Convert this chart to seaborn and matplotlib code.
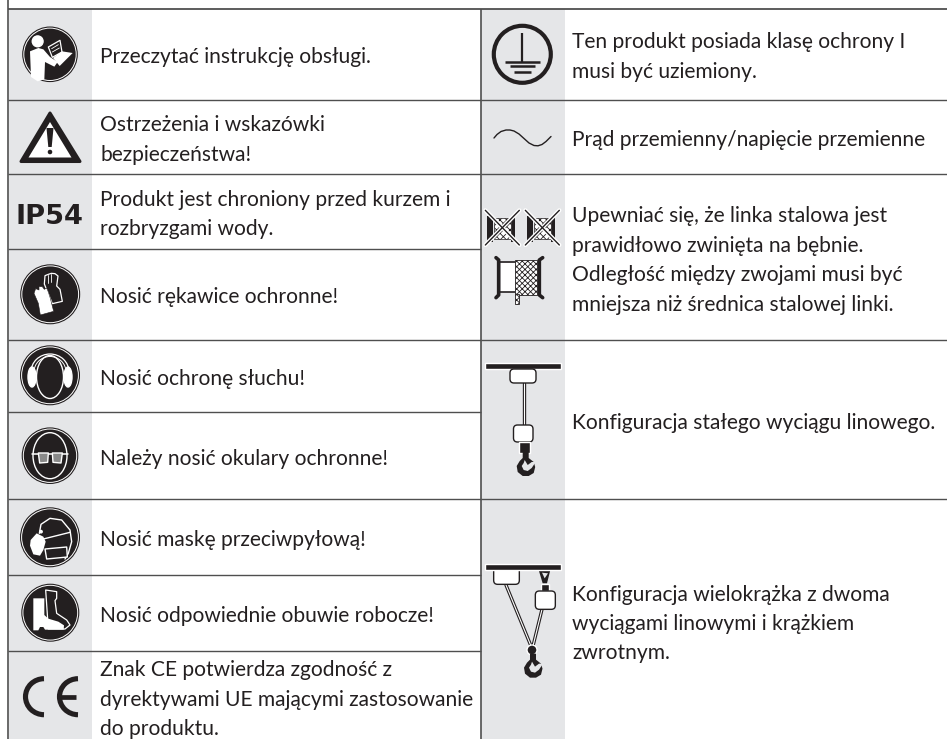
import numpy as np
import pandas as pd
import matplotlib
matplotlib.use("Agg")
import matplotlib.pyplot as plt
import seaborn as sns
from matplotlib.patches import Circle, Polygon, Rectangle, FancyBboxPatch, Ellipse, Arc

# table rows, y of the rules in pixels
left_rules = [99.5, 174, 248.5, 340, 412, 499, 575, 651]
right_rules = [99.5, 174, 340, 499]
top_rule = 9

left_text = ["Przeczytać instrukcję obsługi.",
             "Ostrzeżenia i wskazówki", "bezpieczeństwa!",
             "Produkt jest chroniony przed kurzem i", "rozbryzgami wody.",
             "Nosić rękawice ochronne!",
             "Nosić ochronę słuchu!",
             "Należy nosić okulary ochronne!",
             "Nosić maskę przeciwpyłową!",
             "Nosić odpowiednie obuwie robocze!",
             "Znak CE potwierdza zgodność z",
             "dyrektywami UE mającymi zastosowanie",
             "do produktu."]
left_base = [62.7, 131, 160.7, 205.7, 235, 303, 384.7, 465, 545.7, 622, 676, 706, 735]

right_text = ["Ten produkt posiada klasę ochrony I",
              "musi być uziemiony.",
              "Prąd przemienny/napięcie przemienne",
              "Upewniać się, że linka stalowa jest",
              "prawidłowo zwinięta na bębnie.",
              "Odległość między zwojami musi być",
              "mniejsza niż średnica stalowej linki.",
              "Konfiguracja stałego wyciągu linowego.",
              "Konfiguracja wielokrążka z dwoma",
              "wyciągami linowymi i krążkiem",
              "zwrotnym."]
right_base = [48.3, 78.3, 145.7, 222, 251.7, 281, 310.7, 429.3, 601, 630, 659]

# alternating current symbol
wave_x = [494, 497, 501, 506, 510, 514, 519, 524, 529, 534, 538, 542, 546, 551]
wave_y = [138, 134.5, 131.5, 130, 130, 131, 134, 138.5, 143, 145.5, 145.8, 144.5, 141.5, 136.5]

INK = "#231f20"
GREY = "#e5e6e8"
RULE = "#4f4f4f"

sns.set_theme(style="white")
plt.rcParams["font.family"] = ["Lato", "DejaVu Sans"]
plt.rcParams["hatch.linewidth"] = 0.6

fig = plt.figure(figsize=(9.47, 7.39), dpi=100)
ax = fig.add_axes([0, 0, 1, 1])
ax.set_xlim(0, 947)
ax.set_ylim(739, 0)
ax.axis("off")


def crop(pts, ox, oy):
    return [(ox + x / 3, oy + y / 3) for x, y in pts]


def poly(pts, fc="white", ec="none", lw=0, closed=True, z=5):
    ax.add_patch(Polygon(pts, closed=closed, facecolor=fc, edgecolor=ec, linewidth=lw, zorder=z, joinstyle="round"))


def stroke(pts, color="white", lw=0.9, z=5):
    xs, ys = zip(*pts)
    ax.plot(xs, ys, color=color, lw=lw, zorder=z, solid_capstyle="round", solid_joinstyle="round")


def badge(cx, cy, r):
    ax.add_patch(Circle((cx, cy), r, facecolor=INK, edgecolor="none", zorder=3))
    ax.add_patch(Circle((cx, cy), r - 1.6, facecolor="none", edgecolor="white", linewidth=0.7, zorder=4))


def block(x0, y0, x1, y1):
    ax.add_patch(FancyBboxPatch((x0, y0), x1 - x0, y1 - y0, boxstyle="round,pad=0,rounding_size=4",
                                facecolor="white", edgecolor=INK, linewidth=1.0, zorder=6))


def rope(x0, y0, x1, y1):
    stroke([(x0, y0), (x1, y1)], INK, 2.4, 4)
    stroke([(x0, y0), (x1, y1)], "white", 0.8, 4.5)


def hook(cx, cy):
    body = [(-3, -13), (3, -13), (3, -7), (8, -3), (9.5, 2), (8, 8), (3, 11), (-3, 11), (-8, 7), (-9, 1), (-6, -4), (-3, -7)]
    poly([(cx + x, cy + y) for x, y in body], INK, z=6)
    flame = [(-1, -5), (2, 0), (6, -3), (10, -3), (6, 3), (2, 6), (-2, 5), (-4, 1), (-2, -2)]
    poly([(cx + x, cy + y) for x, y in flame], GREY, z=7)


# grey icon columns and rules
ax.add_patch(Rectangle((8.5, top_rule), 83.5, 739 - top_rule, facecolor=GREY, edgecolor="none", zorder=1))
ax.add_patch(Rectangle((481, top_rule), 84, 739 - top_rule, facecolor=GREY, edgecolor="none", zorder=1))
ax.hlines(top_rule, 8, 947, color=RULE, lw=1.3, zorder=2)
ax.hlines(left_rules, 8, 480.5, color=RULE, lw=1.0, zorder=2)
ax.hlines(right_rules, 480.5, 947, color=RULE, lw=1.0, zorder=2)
ax.vlines(8, 0, 739, color=RULE, lw=1.2, zorder=2)
ax.vlines(480.5, top_rule, 739, color=RULE, lw=1.2, zorder=2)

for s, y in zip(left_text, left_base):
    ax.text(100, y, s, fontsize=15.1, color=INK, va="baseline", ha="left")
for s, y in zip(right_text, right_base):
    ax.text(572, y, s, fontsize=15.1, color=INK, va="baseline", ha="left")

# read the manual
badge(50, 54.3, 27.8)
ox, oy = 15, 22
ax.add_patch(Circle((ox + 68 / 3, oy + 58 / 3), 5.4, facecolor="white", zorder=5))
poly(crop([(45, 88), (70, 78), (85, 82), (105, 105), (128, 120), (118, 134), (98, 124), (90, 120), (88, 172), (68, 178), (48, 165)], ox, oy))
poly(crop([(100, 75), (135, 55), (141, 90), (112, 106)], ox, oy), INK, "white", 0.9, z=6)
poly(crop([(141, 88), (173, 93), (134, 132), (114, 108)], ox, oy), "white", z=6)
stroke(crop([(110, 80), (130, 68)], ox, oy), "white", 0.6, 7)
stroke(crop([(112, 90), (133, 78)], ox, oy), "white", 0.6, 7)

# warning triangle
poly([(50, 113), (21, 161.5), (80, 161.5)], INK, INK, 2.2)
poly([(50, 122), (28.5, 157.5), (71.5, 157.5)], "white", z=6)
poly([(46.5, 128), (53.5, 128), (51.7, 147), (48.3, 147)], INK, z=7)
ax.add_patch(Circle((50, 152), 3, facecolor=INK, zorder=7))

# IP54
ax.text(50, 224, "IP54", fontsize=19.6, fontweight="bold", color=INK, family="DejaVu Sans", ha="center", va="baseline", zorder=5)

# gloves
badge(50.2, 294.3, 30)
ox, oy = 15, 260
poly(crop([(88, 72), (90, 47), (100, 43), (109, 40), (120, 41), (129, 48), (125, 78), (135, 88), (142, 124), (112, 131)], ox, oy), INK, "white", 0.9)
stroke(crop([(99, 44), (99, 68)], ox, oy), "white", 0.6)
stroke(crop([(109, 41), (109, 66)], ox, oy), "white", 0.6)
poly(crop([(57, 100), (62, 86), (72, 90), (72, 80), (82, 80), (88, 88), (95, 84), (100, 96), (106, 115), (116, 154), (76, 165), (70, 130)], ox, oy), "white", INK, 0.4, z=6)

# hearing protection
badge(50, 375.3, 30)
ax.add_patch(Ellipse((50, 377), 27, 43, facecolor=INK, edgecolor="white", linewidth=1.0, zorder=5))
ax.add_patch(Arc((50, 372), 38, 36, theta1=180, theta2=360, edgecolor="white", linewidth=0.9, zorder=5))
ax.add_patch(Arc((50, 372), 32, 31, theta1=180, theta2=360, edgecolor="white", linewidth=0.7, zorder=5))
ax.add_patch(Ellipse((32, 377), 8, 20, facecolor="white", zorder=5))
ax.add_patch(Ellipse((68, 377), 8, 20, facecolor="white", zorder=5))

# safety glasses
badge(50, 455.7, 28.3)
ax.add_patch(Ellipse((50, 455.7), 34, 46, facecolor=INK, edgecolor="white", linewidth=1.0, zorder=5))
ox, oy = 15, 425
stroke(crop([(50, 86), (160, 86)], ox, oy), "white", 1.1, 6)
poly(crop([(70, 84), (100, 84), (98, 112), (74, 114)], ox, oy), "#8a8a8a", "white", 1.0, z=6)
poly(crop([(112, 84), (142, 84), (138, 114), (114, 112)], ox, oy), "#8a8a8a", "white", 1.0, z=6)

# dust mask
badge(50, 537.3, 30)
stroke(crop([(73, 325), (78, 298), (105, 280), (140, 285), (165, 315), (170, 350), (160, 385), (150, 402)], ox, oy), "white", 1.0)
poly(crop([(47, 345), (65, 325), (85, 335), (92, 350), (85, 375), (75, 392), (55, 388), (45, 362)], ox, oy), "white", z=6)
stroke(crop([(85, 342), (165, 322)], ox, oy), "white", 1.0)
poly(crop([(90, 372), (155, 366), (157, 396), (95, 402)], ox, oy), INK, "white", 1.0)
ax.add_patch(Circle((ox + 78 / 3, oy + 320 / 3), 1.2, facecolor="white", zorder=6))

# safety boots
badge(50.3, 612.7, 29)
ox, oy = 15, 580
poly(crop([(92, 30), (125, 35), (125, 55), (120, 62), (125, 100), (155, 120), (165, 135), (150, 147), (100, 147)], ox, oy), INK, "white", 0.9)
poly(crop([(55, 55), (88, 55), (88, 105), (100, 116), (130, 125), (147, 136), (146, 149), (90, 149), (85, 141), (75, 141), (70, 151), (55, 151)], ox, oy), "white", z=6)

# CE mark
ce_y = 696.7
ax.add_patch(Arc((44, ce_y), 37, 36, theta1=90, theta2=270, edgecolor=INK, linewidth=3.7, zorder=5))
ax.add_patch(Arc((78, ce_y), 37, 36, theta1=90, theta2=270, edgecolor=INK, linewidth=3.7, zorder=5))
ax.hlines(ce_y, 60, 76, color=INK, lw=3.4, zorder=5)

# protective earth
ax.add_patch(Circle((522.3, 54.3), 28.5, facecolor="none", edgecolor=INK, linewidth=3.0, zorder=5))
ax.vlines(522.3, 33, 62, color=INK, lw=1.6, zorder=5)
ax.hlines([61.5, 66, 72], [505, 510, 514], [540, 535, 531], color=INK, lw=1.8, zorder=5)

# AC
wave = pd.DataFrame({"x": wave_x, "y": wave_y})
sns.lineplot(data=wave, x="x", y="y", sort=False, color=INK, lw=1.0, ax=ax, zorder=5)
ax.set_xlim(0, 947)
ax.set_ylim(739, 0)

# rope drum, wrong and right
for dx in (0, 40):
    ox, oy = 482 + dx, 205
    poly(crop([(16, 32), (33, 32), (33, 112), (16, 112)], ox, oy), INK)
    poly(crop([(88, 32), (100, 32), (100, 112), (88, 112)], ox, oy), INK)
    ax.add_patch(Rectangle((ox + 36 / 3, oy + 40 / 3), 50 / 3, 62 / 3, facecolor="white", edgecolor=INK, linewidth=0.5, hatch="xxxxx", zorder=5))
    for a, b in (((10, 16), (112, 120)), ((112, 16), (10, 120))):
        stroke(crop([a, b], ox, oy), "white", 3.0, 6)
        stroke(crop([a, b], ox, oy), INK, 1.0, 7)
ox, oy = 482, 205
stroke(crop([(42, 158), (50, 165), (50, 270), (42, 278)], ox, oy), INK, 2.6)
stroke(crop([(182, 158), (172, 165), (172, 270), (182, 278)], ox, oy), INK, 2.6)
stroke(crop([(52, 172), (100, 172)], ox, oy), INK, 1.2)
stroke(crop([(52, 260), (100, 260)], ox, oy), INK, 1.2)
ax.add_patch(Rectangle((ox + 58 / 3, oy + 174 / 3), 42 / 3, 84 / 3, facecolor="white", zorder=4))
ax.add_patch(Rectangle((ox + 100 / 3, oy + 165 / 3), 65 / 3, 105 / 3, facecolor="white", edgecolor=INK, linewidth=0.6, hatch="xxxxxx", zorder=5))
ax.add_patch(Rectangle((ox + 98 / 3, oy + 268 / 3), 14 / 3, 30 / 3, facecolor="white", edgecolor=INK, linewidth=0.6, hatch="xxxxxx", zorder=5))

# fixed hoist
ax.add_patch(Rectangle((485, 362.5), 76, 6, facecolor=INK, zorder=6))
block(510, 369, 536, 383)
rope(523.7, 383, 523.7, 425)
block(513.5, 425, 533, 442)
ax.add_patch(Rectangle((519, 442), 11, 11, facecolor=INK, zorder=6))
hook(525.7, 465)

# pulley hoist
ax.add_patch(Rectangle((485, 564), 76, 6, facecolor=INK, zorder=7))
ox, oy = 482, 560
block(ox + 35 / 3, 566, ox + 112 / 3, oy + 73 / 3)
poly(crop([(170, 30), (205, 30), (195, 70), (182, 70)], ox, oy), INK, z=6)
poly(crop([(180, 38), (198, 40), (188, 55)], ox, oy), GREY, z=7)
ax.add_patch(Rectangle((ox + 178 / 3, oy + 72 / 3), 24 / 3, 21 / 3, facecolor=INK, zorder=6))
block(ox + 160 / 3, oy + 93 / 3, ox + 220 / 3, oy + 148 / 3)
x0, y0 = crop([(72, 75)], ox, oy)[0]
x1, y1 = crop([(147, 258)], ox, oy)[0]
rope(x0, y0, x1, y1)
x0, y0 = crop([(180, 148)], ox, oy)[0]
x1, y1 = crop([(153, 258)], ox, oy)[0]
rope(x0, y0, x1, y1)
ax.add_patch(Circle((ox + 150 / 3, oy + 270 / 3), 5, facecolor=INK, zorder=6))
hook(ox + 153 / 3, oy + 320 / 3)

fig.savefig("out.png", dpi=100, facecolor="white")
